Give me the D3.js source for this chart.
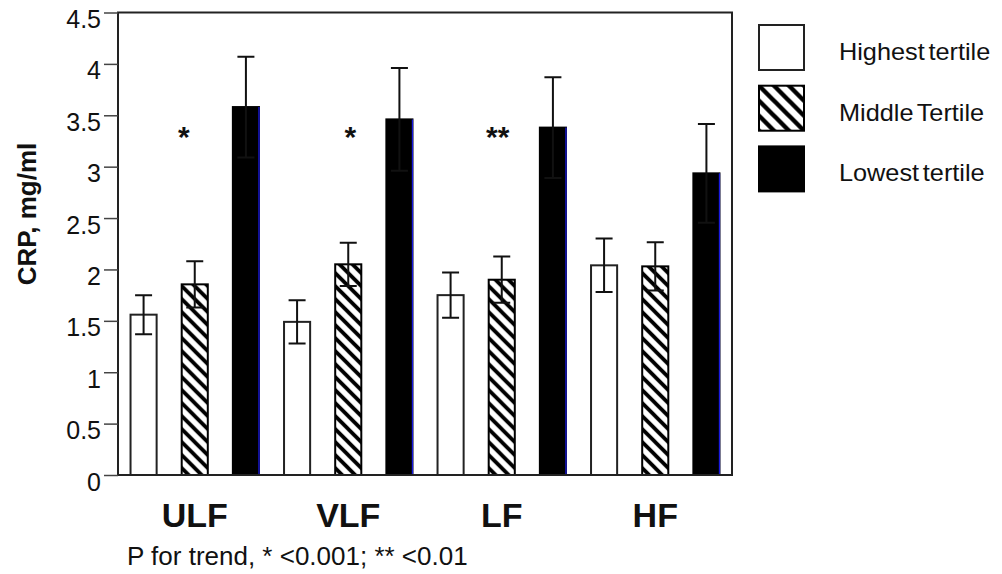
<!DOCTYPE html>
<html>
<head>
<meta charset="utf-8">
<script src="https://cdn.jsdelivr.net/npm/d3@7"></script>
<style>
  body { margin: 0; background: #fff; }
  text { font-family: Arial, "Liberation Sans", sans-serif; fill: #111; }
</style>
</head>
<body>
<div id="chart"></div>
<script>
// CRP by HRV band tertile
const groups = ["ULF", "VLF", "LF", "HF"];
const tertiles = ["Highest tertile", "Middle Tertile", "Lowest tertile"];
const highest = [1.56, 1.49, 1.75, 2.04];
const highestErr = [0.19, 0.21, 0.22, 0.26];
const middle = [1.855, 2.05, 1.90, 2.03];
const middleErr = [0.225, 0.21, 0.225, 0.235];
const lowest = [3.58, 3.46, 3.38, 2.935];
const lowestErr = [0.49, 0.50, 0.49, 0.48];
const notes = ["*", "*", "**", ""];
const noteShift = [-11, 2, -4, 0];
const yTicks = [0, 0.5, 1, 1.5, 2, 2.5, 3, 3.5, 4, 4.5];

const svgWidth = 1002;
const svgHeight = 574;
const plot = { left: 118, right: 732, top: 12.5, bottom: 475 };

const svg = d3.select("#chart").append("svg")
    .attr("width", svgWidth)
    .attr("height", svgHeight);

// hatch patterns for middle tertile ("\" stripes), bars and legend
const defs = svg.append("defs");
function hatch(id, hp, sw) {
    const pat = defs.append("pattern")
        .attr("id", id)
        .attr("patternUnits", "userSpaceOnUse")
        .attr("width", hp)
        .attr("height", hp);
    pat.append("rect").attr("width", hp).attr("height", hp).attr("fill", "#fff");
    pat.append("path")
        .attr("d", `M${-hp},0 L${hp},${2 * hp} M0,0 L${hp},${hp} M0,${-hp} L${2 * hp},${hp}`)
        .attr("stroke", "#000")
        .attr("stroke-width", sw);
}
hatch("hatch", 13, 3.8);
hatch("hatchBig", 15, 4.4);

const x0 = d3.scaleBand().domain(groups).range([plot.left, plot.right]);
const x1 = d3.scaleBand().domain(tertiles).range([0, x0.bandwidth()])
    .paddingInner(0.49).paddingOuter(0.245);
const y = d3.scaleLinear().domain([0, 4.5]).range([plot.bottom, plot.top]);

const rows = [];
groups.forEach((g, i) => {
    rows.push({ g, t: tertiles[0], v: highest[i], e: highestErr[i] });
    rows.push({ g, t: tertiles[1], v: middle[i], e: middleErr[i] });
    rows.push({ g, t: tertiles[2], v: lowest[i], e: lowestErr[i] });
});

const fills = { "Highest tertile": "#fff", "Middle Tertile": "url(#hatch)", "Lowest tertile": "#000" };
const strokes = { "Highest tertile": "#222", "Middle Tertile": "#000", "Lowest tertile": "#000" };

// bars
const bars = svg.append("g").selectAll("g.bar")
    .data(rows)
    .enter().append("g")
    .attr("class", "bar")
    .attr("transform", d => "translate(" + (x0(d.g) + x1(d.t)) + ",0)");

bars.append("rect")
    .attr("x", 0)
    .attr("y", d => y(d.v))
    .attr("width", x1.bandwidth())
    .attr("height", d => y(0) - y(d.v))
    .attr("fill", d => fills[d.t])
    .attr("stroke", d => strokes[d.t])
    .attr("stroke-width", 2);

// blue edge on black bars (as in the original scan)
bars.filter(d => d.t === tertiles[2]).append("path")
    .attr("d", d => "M" + x1.bandwidth() + "," + y(d.v) + " V" + y(0) + " H0")
    .attr("fill", "none")
    .attr("stroke", "#1a1ae0")
    .attr("stroke-width", 1.3);

// error bars
const cap = 8.5;
const cx = x1.bandwidth() / 2;
bars.append("path")
    .attr("d", d => "M" + cx + "," + y(d.v + d.e) + " V" + y(d.v - d.e) +
        " M" + (cx - cap) + "," + y(d.v + d.e) + " H" + (cx + cap) +
        " M" + (cx - cap) + "," + y(d.v - d.e) + " H" + (cx + cap))
    .attr("fill", "none")
    .attr("stroke", "#111")
    .attr("stroke-width", 2);

// frame
svg.append("rect")
    .attr("x", plot.left)
    .attr("y", plot.top)
    .attr("width", plot.right - plot.left)
    .attr("height", plot.bottom - plot.top)
    .attr("fill", "none")
    .attr("stroke", "#222")
    .attr("stroke-width", 2);

// y axis
const yAxis = svg.append("g")
    .attr("transform", "translate(" + plot.left + ",0)")
    .call(d3.axisLeft(y).tickValues(yTicks).tickSize(14).tickPadding(3).tickFormat(d3.format("~g")));
yAxis.select(".domain").remove();
yAxis.selectAll("line").attr("stroke", "#444").attr("stroke-width", 1.5);
yAxis.selectAll("text")
    .attr("dy", "0.6em")
    .style("font-family", "Arial, 'Liberation Sans', sans-serif")
    .style("font-size", "25px")
    .attr("fill", "#111");

svg.append("text")
    .attr("transform", "translate(36,214) rotate(-90)")
    .attr("text-anchor", "middle")
    .style("font-size", "26px")
    .style("font-weight", "bold")
    .text("CRP, mg/ml");

// category labels
svg.append("g").selectAll("text")
    .data(groups)
    .enter().append("text")
    .attr("x", d => x0(d) + x0.bandwidth() / 2)
    .attr("y", 527)
    .attr("text-anchor", "middle")
    .style("font-size", "34px")
    .style("font-weight", "bold")
    .text(d => d);

// significance marks above middle tertile
svg.append("g").selectAll("text")
    .data(groups)
    .enter().append("text")
    .attr("x", (d, i) => x0(d) + x1(tertiles[1]) + x1.bandwidth() / 2 + noteShift[i])
    .attr("y", 147)
    .attr("text-anchor", "middle")
    .style("font-size", "30px")
    .style("font-weight", "bold")
    .text((d, i) => notes[i]);

svg.append("text")
    .attr("x", 127)
    .attr("y", 565)
    .style("font-size", "26px")
    .text("P for trend, * <0.001; ** <0.01");

// legend
const legend = svg.append("g").selectAll("g")
    .data(tertiles)
    .enter().append("g")
    .attr("transform", (d, i) => "translate(759," + (25 + i * 60.7) + ")");

legend.append("rect")
    .attr("width", 45)
    .attr("height", 45)
    .attr("fill", d => d === tertiles[1] ? "url(#hatchBig)" : fills[d])
    .attr("stroke", d => strokes[d])
    .attr("stroke-width", 2);

legend.append("text")
    .attr("transform", "translate(80,35) scale(1.1,1)")
    .style("font-size", "23px")
    .style("word-spacing", "-3px")
    .text(d => d);
</script>
</body>
</html>
